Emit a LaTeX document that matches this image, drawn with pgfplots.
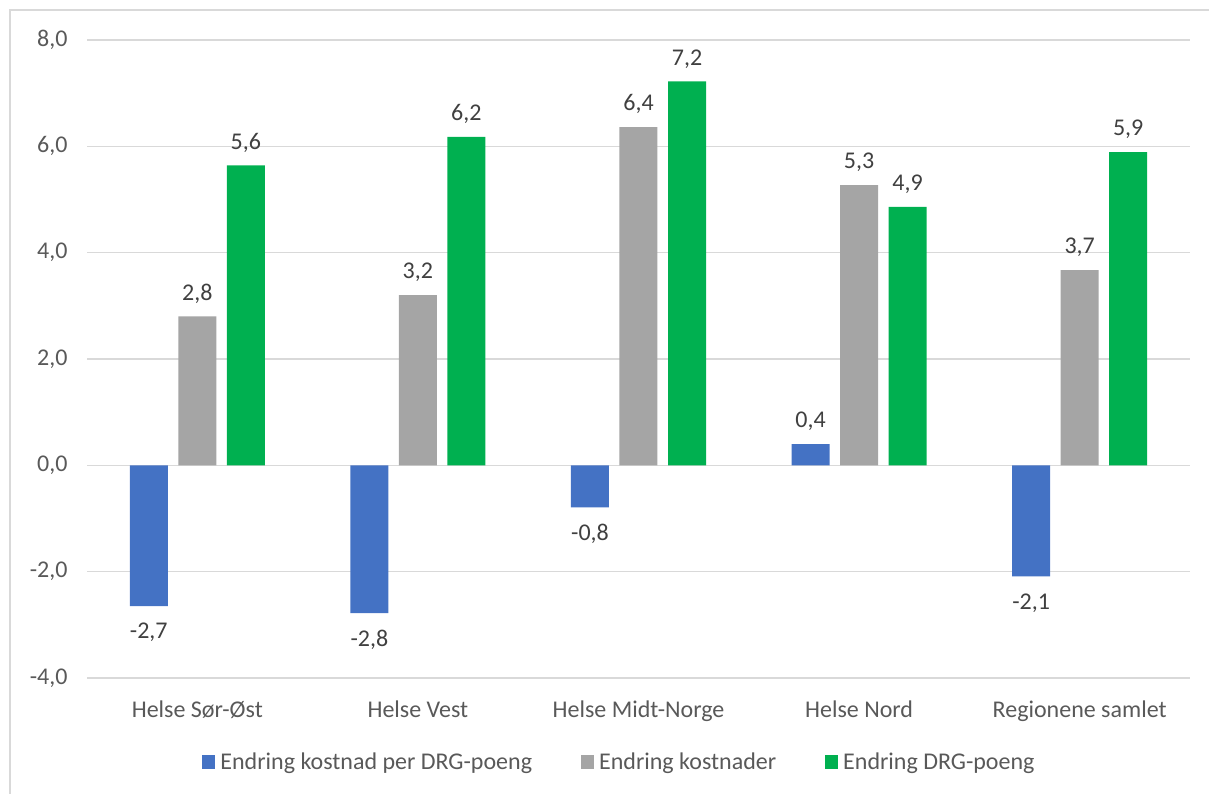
\documentclass[border=0pt]{standalone}
\usepackage{fontspec}
\setmainfont{Carlito}
\usepackage{pgfplots}
\pgfplotsset{compat=1.18}
\definecolor{blueb}{HTML}{4472C4}
\definecolor{grayb}{HTML}{A5A5A5}
\definecolor{greenb}{HTML}{00B050}
\definecolor{gridc}{HTML}{D9D9D9}
\definecolor{txt}{HTML}{595959}
\definecolor{lbl}{HTML}{404040}

\begin{document}
\begin{tikzpicture}[x=1pt,y=1pt]
\path[use as bounding box] (0,0) rectangle (1209,794);
\draw[gridc, line width=1.5pt] (10,-2) -- (10,784) -- (1211,784);
\begin{axis}[
    at={(87pt,116pt)}, anchor=south west,
    width=1103pt, height=638pt, scale only axis,
    ymin=-4, ymax=8, ytick={-4,-2,...,8},
    xmin=-0.5, xmax=4.5, xtick={0,...,4},
    xticklabels={Helse Sør-Øst, Helse Vest, Helse Midt-Norge, Helse Nord, Regionene samlet},
    ybar=10.5pt, bar width=38pt,
    axis line style={draw=none}, major tick length=0pt,
    ymajorgrids, grid style={gridc, line width=1.5pt},
    font=\fontsize{24}{29}\selectfont,
    tick label style={text=txt, font=\fontsize{24}{29}\selectfont},
    yticklabel style={xshift=-16pt, /pgf/number format/.cd, fixed, fixed zerofill, precision=1, use comma, assume math mode=true},
    xticklabel style={yshift=-19pt},
    nodes near coords, point meta=explicit,
    visualization depends on={y \as \rawy},
    every node near coord/.append style={text=lbl, font=\fontsize{24}{29}\selectfont, inner sep=13pt,
        yshift={ifthenelse(\rawy<0,-4,0)},
        /pgf/number format/.cd, fixed, fixed zerofill, precision=1, use comma, assume math mode=true},
    legend columns=3,
    legend style={at={(0.4841,-0.1317)}, anchor=center, draw=none, text=txt,
        font=\fontsize{24}{29}\selectfont,
        /tikz/every even column/.append style={column sep=44pt},
        nodes={inner xsep=5pt}},
    legend image code/.code={\draw[#1,draw=none] (0pt,-7pt) rectangle (13pt,7pt);},
]
\addplot[fill=blueb, draw=none] coordinates {
    (0,-2.65) [-2.7] (1,-2.78) [-2.8] (2,-0.79) [-0.8] (3,0.4) [0.4] (4,-2.09) [-2.1]};
\addplot[fill=grayb, draw=none] coordinates {
    (0,2.8) [2.8] (1,3.2) [3.2] (2,6.36) [6.4] (3,5.27) [5.3] (4,3.67) [3.7]};
\addplot[fill=greenb, draw=none] coordinates {
    (0,5.64) [5.6] (1,6.18) [6.2] (2,7.22) [7.2] (3,4.86) [4.9] (4,5.89) [5.9]};
\legend{Endring kostnad per DRG-poeng, Endring kostnader, Endring DRG-poeng}
\end{axis}
\end{tikzpicture}
\end{document}
